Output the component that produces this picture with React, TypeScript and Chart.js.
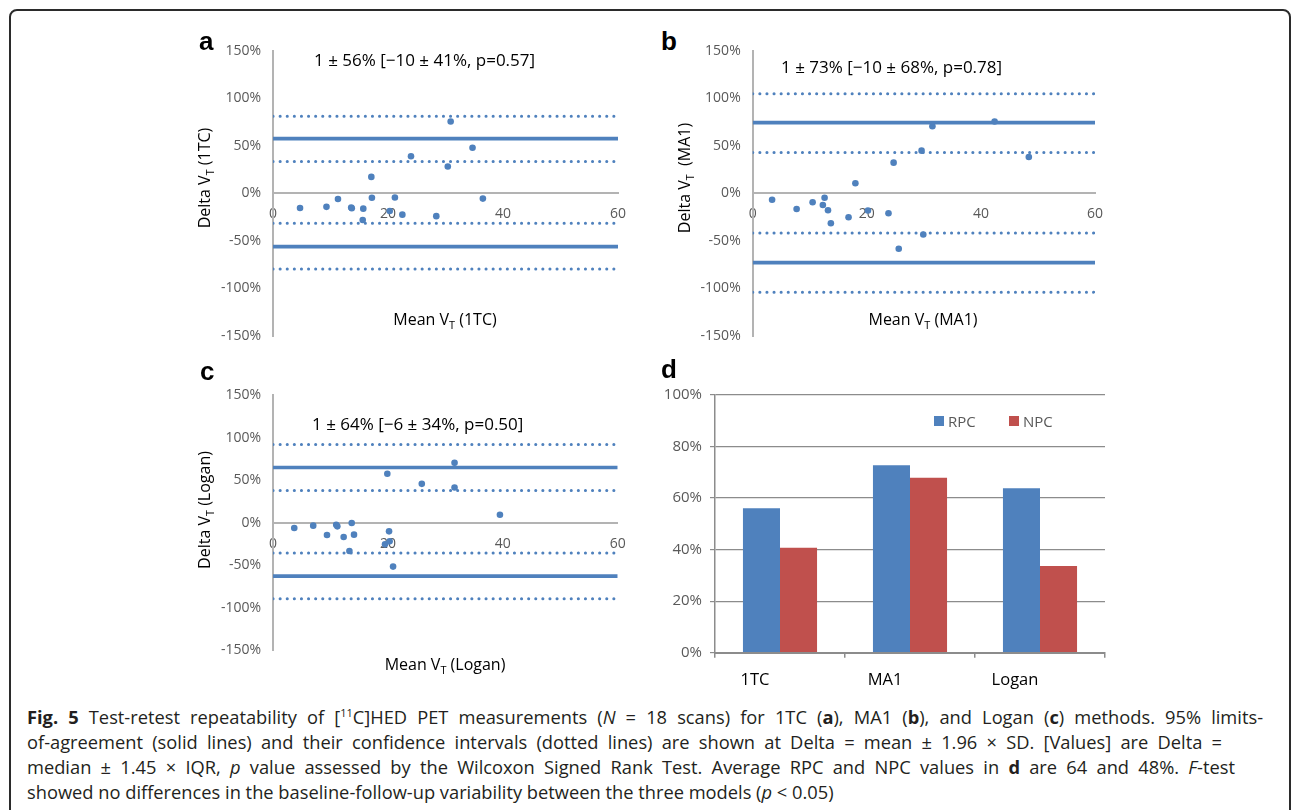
import React, { useEffect, useRef } from "react";
import { Chart, registerables } from "chart.js";
Chart.register(...registerables);

const BLUE = "#4F81BD";
const RED = "#C0504D";
const AXIS_GRAY = "#B3B3B3";
const TICK_GRAY = "#595959";
const GRID_GRAY = "#8C8C8C";
const FONT = "'Open Sans', 'Noto Sans', sans-serif";

// Bland-Altman panels: x = mean VT, y = delta VT (%)
const xRange = [0, 60];
const yRange = [-150, 150];

const meanVT_1TC = [4.7, 9.3, 11.3, 13.7, 13.6, 15.7, 15.6, 17.1, 17.2, 20.3, 21.2, 22.5, 24.0, 28.4, 30.4, 30.9, 34.7, 36.5];
const deltaVT_1TC = [-15.4, -14.2, -5.9, -15.7, -15.0, -16.1, -28, 17.3, -4.7, -18.5, -4.3, -22.4, 39, -24, 28.3, 75.6, 48, -5.5];
const loa_1TC = [57.5, -56];
const ci_1TC = [81, 33.5, -31.5, -79.5];

const meanVT_MA1 = [3.4, 7.7, 10.5, 12.6, 12.3, 13.2, 13.7, 16.8, 18.0, 20.2, 23.8, 24.7, 25.6, 29.6, 29.9, 31.5, 42.4, 48.4];
const deltaVT_MA1 = [-6.7, -16.5, -9.4, -4.7, -12.2, -17.7, -31.5, -25.2, 10.6, -18.1, -20.9, 32.3, -58.3, 44.9, -43.3, 70.5, 75.6, 38.2];
const loa_MA1 = [74.4, -72.8];
const ci_MA1 = [104.7, 42.9, -41.7, -103.9];

const meanVT_Logan = [3.7, 7.0, 9.4, 11.0, 11.2, 12.3, 13.3, 13.7, 14.1, 19.9, 20.2, 19.5, 20.3, 20.9, 25.9, 31.6, 31.6, 39.5];
const deltaVT_Logan = [-6.3, -3.5, -14.5, -2.4, -4.3, -16.8, -33.3, -0.4, -14.1, 57.6, -10.2, -25.5, -22, -51.7, 45.8, 70.5, 41.5, 9.4];
const loa_Logan = [65, -63];
const ci_Logan = [92, 38, -35.6, -89.7];

// Panel d
const methods = ["1TC", "MA1", "Logan"];
const rpc = [56.1, 72.7, 63.8];
const npc = [40.7, 67.9, 33.6];

type Pad = { top: number; right: number; bottom: number };

function hLine(v: number, dotted: boolean) {
  return {
    data: [
      { x: xRange[0], y: v },
      { x: xRange[1], y: v },
    ],
    showLine: true,
    pointRadius: 0,
    borderColor: BLUE,
    borderWidth: dotted ? 3 : 3.6,
    borderDash: dotted ? [0.1, 7] : [],
    borderCapStyle: dotted ? "round" : "butt",
    fill: false,
  };
}

function scatterConfig(xs: number[], ys: number[], loa: number[], ci: number[], yAxisW: number, pad: Pad): any {
  const pts = xs.map((x, i) => ({ x, y: ys[i] }));
  return {
    type: "scatter",
    data: {
      datasets: [
        { data: pts, backgroundColor: BLUE, borderColor: BLUE, pointRadius: 3.3, borderWidth: 0 },
        ...loa.map((v) => hLine(v, false)),
        ...ci.map((v) => hLine(v, true)),
      ],
    },
    options: {
      responsive: false,
      animation: false,
      events: [],
      layout: { padding: { left: 0, ...pad } },
      plugins: { legend: { display: false }, tooltip: { enabled: false } },
      scales: {
        x: {
          type: "linear",
          position: { y: 0 },
          min: xRange[0],
          max: xRange[1],
          grid: { display: false, drawTicks: false },
          border: { display: true, color: AXIS_GRAY, width: 2 },
          ticks: { stepSize: 20, color: TICK_GRAY, font: { family: FONT, size: 14 }, padding: 12.5, autoSkip: false, maxRotation: 0 },
          afterFit: (s: any) => {
            s.height = 0;
          },
        },
        y: {
          type: "linear",
          position: "left",
          min: yRange[0],
          max: yRange[1],
          grid: { display: false, drawTicks: false },
          border: { display: true, color: AXIS_GRAY, width: 2 },
          ticks: {
            stepSize: 50,
            color: TICK_GRAY,
            font: { family: FONT, size: 14 },
            padding: 12,
            callback: (v: any) => v + "%",
          },
          afterFit: (s: any) => {
            s.width = yAxisW;
          },
        },
      },
    },
  };
}

function barConfig(): any {
  return {
    type: "bar",
    data: {
      labels: methods,
      datasets: [
        { label: "RPC", data: rpc, backgroundColor: BLUE },
        { label: "NPC", data: npc, backgroundColor: RED },
      ],
    },
    options: {
      responsive: false,
      animation: false,
      events: [],
      layout: { padding: { left: 0, top: 20, right: 15, bottom: 0 } },
      datasets: { bar: { barPercentage: 1, categoryPercentage: 0.57 } },
      plugins: { legend: { display: false }, tooltip: { enabled: false } },
      scales: {
        x: {
          grid: { drawOnChartArea: false, drawTicks: true, tickLength: 5, color: GRID_GRAY, lineWidth: 1.5 },
          border: { color: GRID_GRAY, width: 2 },
          ticks: { color: "#000", font: { family: FONT, size: 16.5 }, padding: 13, labelOffset: -25, maxRotation: 0 },
          afterFit: (s: any) => {
            s.height = 42.3;
          },
        },
        y: {
          min: 0,
          max: 100,
          grid: { color: GRID_GRAY, lineWidth: 1.2, tickLength: 5 },
          border: { color: GRID_GRAY, width: 1.5 },
          ticks: { stepSize: 20, color: TICK_GRAY, font: { family: FONT, size: 15 }, padding: 8, callback: (v: any) => v + "%" },
          afterFit: (s: any) => {
            s.width = 75;
          },
        },
      },
    },
  };
}

function ChartBox({ left, top, width, height, make }: { left: number; top: number; width: number; height: number; make: () => any }) {
  const ref = useRef<HTMLCanvasElement>(null);
  useEffect(() => {
    const chart = new Chart(ref.current as HTMLCanvasElement, make());
    return () => chart.destroy();
  }, []);
  return (
    <canvas
      ref={ref}
      width={width}
      height={height}
      style={{ position: "absolute", left, top, width, height }}
    />
  );
}

function Txt({ x, y, children, size = 16, color = "#000", weight = 400, align = "left", family = FONT, rotate = false }: any) {
  const tx = align === "center" ? "-50%" : "0";
  return (
    <div
      style={{
        position: "absolute",
        left: x,
        top: y,
        transform: rotate ? "translate(-50%,-50%) rotate(-90deg)" : `translate(${tx},-50%)`,
        fontFamily: family,
        fontSize: size,
        fontWeight: weight,
        color,
        lineHeight: 1.2,
        whiteSpace: "pre",
      }}
    >
      {children}
    </div>
  );
}

const subStyle: any = { fontSize: "0.68em", verticalAlign: "-0.3em", lineHeight: 0 };

function VT({ label }: { label: string }) {
  return (
    <>
      V<span style={subStyle}>T</span>
      {label}
    </>
  );
}

const capLine: any = { height: 25, lineHeight: "25px", whiteSpace: "nowrap" };
const justLine: any = { height: 25, lineHeight: "25px", textAlign: "justify", textAlignLast: "justify", whiteSpace: "normal", overflow: "visible" };

export default function App() {
  return (
    <div style={{ position: "fixed", left: 0, top: 0, width: 1292, height: 810, overflow: "hidden", background: "#fff" }}>
      <div
        style={{
          position: "absolute",
          left: 9,
          top: 9,
          width: 1282,
          height: 900,
          boxSizing: "border-box",
          border: "2px solid #2b2b2b",
          borderRadius: 8,
        }}
      />
      <ChartBox left={200} top={30} width={440} height={330} make={() => scatterConfig(meanVT_1TC, deltaVT_1TC, loa_1TC, ci_1TC, 73, { top: 20.7, right: 22, bottom: 24 })} />
      <ChartBox left={680} top={30} width={440} height={330} make={() => scatterConfig(meanVT_MA1, deltaVT_MA1, loa_MA1, ci_MA1, 72.7, { top: 20.7, right: 25, bottom: 24 })} />
      <ChartBox left={200} top={375} width={440} height={300} make={() => scatterConfig(meanVT_Logan, deltaVT_Logan, loa_Logan, ci_Logan, 73, { top: 20, right: 22.3, bottom: 25 })} />
      <ChartBox left={640} top={375} width={480} height={320} make={barConfig} />

      <Txt x={199} y={42} size={26} weight={700} family="'Liberation Sans', Arial, sans-serif">a</Txt>
      <Txt x={661} y={42} size={26} weight={700} family="'Liberation Sans', Arial, sans-serif">b</Txt>
      <Txt x={200} y={372} size={26} weight={700} family="'Liberation Sans', Arial, sans-serif">c</Txt>
      <Txt x={661} y={370} size={26} weight={700} family="'Liberation Sans', Arial, sans-serif">d</Txt>

      <Txt x={314} y={60} size={17}>1 ± 56% [−10 ± 41%, p=0.57]</Txt>
      <Txt x={781} y={67} size={17}>1 ± 73% [−10 ± 68%, p=0.78]</Txt>
      <Txt x={312} y={424} size={17}>1 ± 64% [−6 ± 34%, p=0.50]</Txt>

      <Txt x={445} y={320} size={16} align="center">Mean <VT label=" (1TC)" /></Txt>
      <Txt x={923} y={320} size={16} align="center">Mean <VT label=" (MA1)" /></Txt>
      <Txt x={445} y={665} size={16} align="center">Mean <VT label=" (Logan)" /></Txt>

      <Txt x={205} y={178} size={16} rotate>Delta <VT label=" (1TC)" /></Txt>
      <Txt x={685} y={178} size={16} rotate>Delta <VT label="  (MA1)" /></Txt>
      <Txt x={205} y={510} size={16} rotate>Delta <VT label=" (Logan)" /></Txt>

      <div style={{ position: "absolute", left: 934, top: 416, width: 10, height: 10, background: BLUE }} />
      <Txt x={948} y={421} size={15} color={TICK_GRAY}>RPC</Txt>
      <div style={{ position: "absolute", left: 1009, top: 416, width: 10, height: 10, background: RED }} />
      <Txt x={1023} y={421} size={15} color={TICK_GRAY}>NPC</Txt>

      <div style={{ position: "absolute", left: 27, top: 703.5, fontFamily: FONT, fontSize: 18.3, color: "#231f20" }}>
        <div style={{ ...justLine, width: 1236 }}>
          <b>Fig. 5</b> Test-retest repeatability of [<sup style={{ fontSize: "0.6em", lineHeight: 0 }}>11</sup>C]HED PET measurements (<i>N</i> = 18 scans) for 1TC (<b>a</b>), MA1 (<b>b</b>), and Logan (<b>c</b>) methods. 95% limits-
        </div>
        <div style={{ ...justLine, width: 1195 }}>
          of-agreement (solid lines) and their confidence intervals (dotted lines) are shown at Delta = mean ± 1.96 × SD. [Values] are Delta =
        </div>
        <div style={{ ...justLine, width: 1208 }}>
          median ± 1.45 × IQR, <i>p</i> value assessed by the Wilcoxon Signed Rank Test. Average RPC and NPC values in <b>d</b> are 64 and 48%. <i>F</i>-test
        </div>
        <div style={capLine}>
          showed no differences in the baseline-follow-up variability between the three models (<i>p</i> &lt; 0.05)
        </div>
      </div>
    </div>
  );
}
